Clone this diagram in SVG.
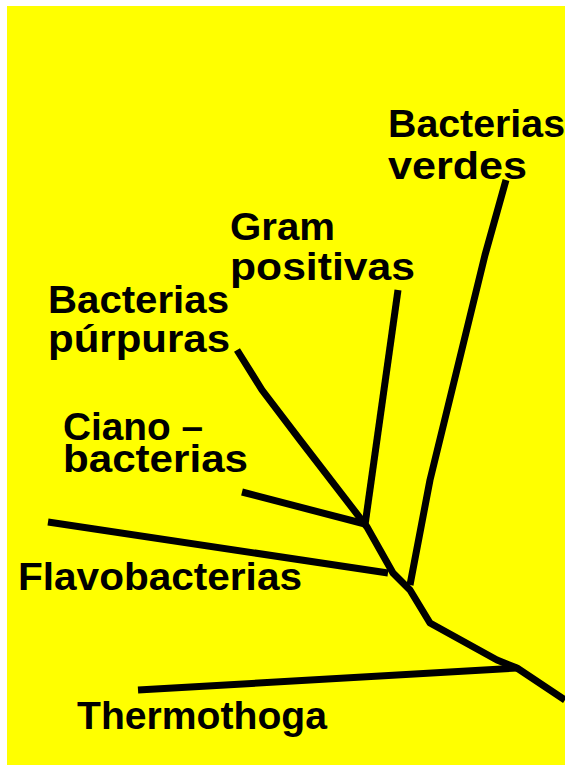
<svg xmlns="http://www.w3.org/2000/svg" width="565" height="765" viewBox="0 0 565 765">
<style>
.br{fill:none;stroke:#000;stroke-width:7;stroke-linejoin:round;stroke-linecap:butt}
.lb{font-family:"Liberation Sans",Arial,sans-serif;font-weight:bold;font-size:39px;fill:#000}
</style>
<rect x="0" y="0" width="565" height="765" fill="#fff"/>
<rect x="7" y="6" width="558" height="759" fill="#ff0"/>
<g id="connectors">
<polyline class="br" points="565,700 517,668 497,660 430,623 410,590 393,573 367,527 300,440 262,390 237,350"/>
<polyline class="br" points="398,290 365,525"/>
<polyline class="br" points="506,180 485,255 430,480 410,585"/>
<polyline class="br" points="242,492 365,524"/>
<polyline class="br" points="48,522 388,573"/>
<polyline class="br" points="138,690 517,668"/>
</g>
<g id="verdes">
<text class="lb" x="388" y="137" textLength="177" lengthAdjust="spacingAndGlyphs">Bacterias</text>
<text class="lb" x="388" y="179" textLength="139" lengthAdjust="spacingAndGlyphs">verdes</text>
</g>
<g id="gram">
<text class="lb" x="230" y="240" textLength="105" lengthAdjust="spacingAndGlyphs">Gram</text>
<text class="lb" x="230" y="280" textLength="185" lengthAdjust="spacingAndGlyphs">positivas</text>
</g>
<g id="purpuras">
<text class="lb" x="48" y="313" textLength="181" lengthAdjust="spacingAndGlyphs">Bacterias</text>
<text class="lb" x="48" y="352" textLength="182" lengthAdjust="spacingAndGlyphs">púrpuras</text>
</g>
<g id="ciano">
<text class="lb" x="63" y="440" textLength="140" lengthAdjust="spacingAndGlyphs">Ciano –</text>
<text class="lb" x="63" y="472" textLength="185" lengthAdjust="spacingAndGlyphs">bacterias</text>
</g>
<g id="flavo">
<text class="lb" x="18" y="590" textLength="284" lengthAdjust="spacingAndGlyphs">Flavobacterias</text>
</g>
<g id="thermo">
<text class="lb" x="77" y="729" textLength="250" lengthAdjust="spacingAndGlyphs">Thermothoga</text>
</g>
</svg>
